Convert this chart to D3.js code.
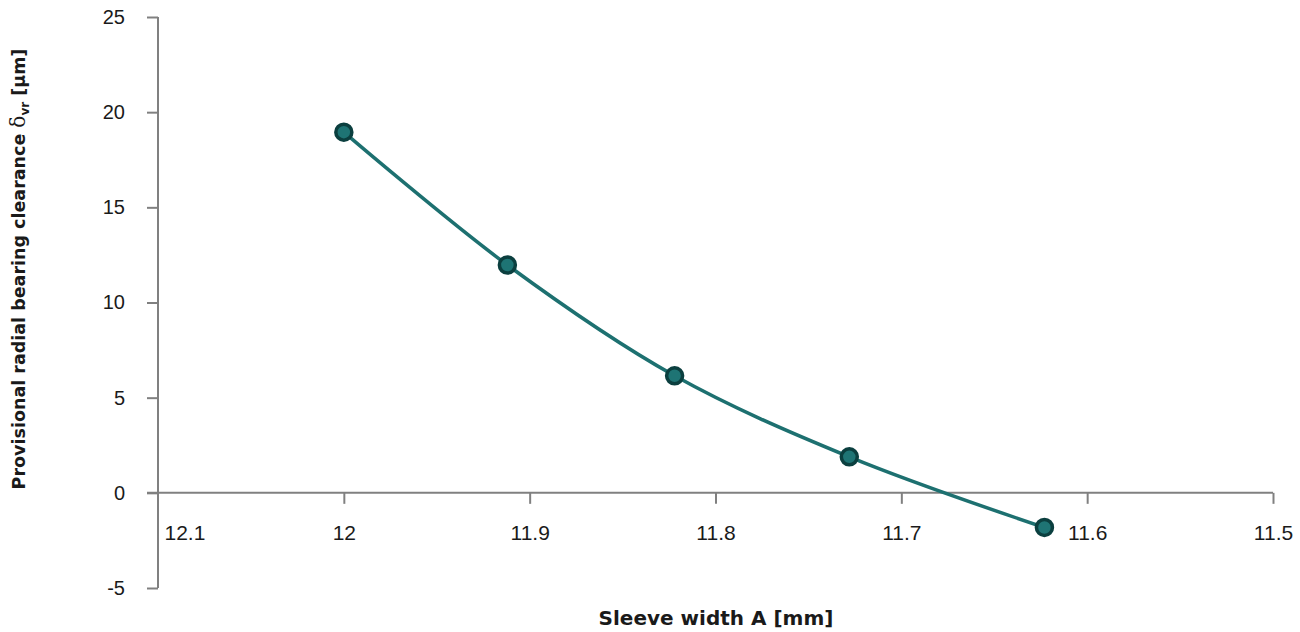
<!DOCTYPE html>
<html>
<head>
<meta charset="utf-8">
<script src="https://cdn.jsdelivr.net/npm/d3@7"></script>
<style>
    body { margin: 0; background: #fff; }
    svg { display: block; font-family: Lato, "Open Sans", sans-serif; }
    .axis path, .axis line { stroke: #808080; stroke-width: 2; }
    .axis text { fill: #1a1a1a; }
    .title { font-family: "DejaVu Sans", sans-serif; font-weight: 700; fill: #1a1a1a; }
</style>
</head>
<body>
<div id="view"></div>
<script>
// sleeve width A [mm] vs provisional radial bearing clearance [um]
var widths = [12.0, 11.912, 11.822, 11.728, 11.623];
var clearance = [18.95, 11.97, 6.15, 1.89, -1.82];
var xTicks = [12.1, 12, 11.9, 11.8, 11.7, 11.6, 11.5];
var yTicks = [-5, 0, 5, 10, 15, 20, 25];

var view = {
    width: 1300,
    height: 632,
    left: 158,
    right: 1273,
    top: 17,
    bottom: 588,
};

var svg = d3.select("#view").append("svg")
    .attr("width", view.width)
    .attr("height", view.height)
;

var x = d3.scaleLinear().domain([12.1, 11.5]).range([view.left, view.right]);
var y = d3.scaleLinear().domain([-5, 25]).range([view.bottom, view.top]);

// y axis, outer ticks to the left
var yAxis = svg.append("g")
    .attr("class", "axis")
    .attr("transform", `translate(${view.left}, 0)`)
    .call(d3.axisLeft(y).tickValues(yTicks).tickFormat(d => String(d)).tickSize(11).tickSizeOuter(0).tickPadding(22))
;
yAxis.select(".domain").attr("d", `M0,${view.top}V${view.bottom}`);
yAxis.selectAll(".tick text").style("font-size", "20px");

// x axis sits on y = 0 and pokes out left past the y axis
var xAxis = svg.append("g")
    .attr("class", "axis")
    .attr("transform", `translate(0, ${y(0)})`)
    .call(d3.axisBottom(x).tickValues(xTicks).tickFormat(d => String(d)).tickSize(11).tickSizeOuter(0).tickPadding(21))
;
xAxis.select(".domain").attr("d", `M${view.left - 11},0H${view.right}`);
xAxis.selectAll(".tick").filter(d => d === 12.1).select("text")
    .attr("text-anchor", "start").attr("x", 6);
xAxis.selectAll(".tick").filter(d => d === 12.1).select("line").remove();
xAxis.selectAll(".tick text").style("font-size", "21px");

var points = widths.map((w, i) => ({x: w, y: clearance[i]}));

var line = d3.line()
    .x(d => x(d.x))
    .y(d => y(d.y))
    .curve(d3.curveCatmullRom.alpha(0.5))
;

svg.append("path")
    .datum(points)
    .attr("fill", "none")
    .attr("stroke", "#1d7070")
    .attr("stroke-width", 3.5)
    .attr("d", line)
;

svg.selectAll("circle.point").data(points).enter()
    .append("circle")
    .attr("class", "point")
    .attr("r", 8)
    .attr("cx", d => x(d.x))
    .attr("cy", d => y(d.y))
    .attr("fill", "#1e7474")
    .attr("stroke", "#0b3f3f")
    .attr("stroke-width", 3.5)
;

// titles
svg.append("text")
    .attr("class", "title")
    .attr("x", 716)
    .attr("y", 625)
    .attr("text-anchor", "middle")
    .style("font-size", "20px")
    .text("Sleeve width A [mm]")
;

var yTitle = svg.append("text")
    .attr("class", "title")
    .attr("transform", "translate(25, 269) rotate(-90)")
    .attr("text-anchor", "middle")
    .style("font-size", "17.5px")
;
yTitle.append("tspan").text("Provisional radial bearing clearance ");
yTitle.append("tspan")
    .attr("font-family", "'DejaVu Serif', serif")
    .attr("font-weight", 400)
    .attr("font-size", 20)
    .text("δ");
yTitle.append("tspan").attr("font-size", 12).attr("dy", 4).text("vr");
yTitle.append("tspan").attr("dy", -4).text(" [µm]");
</script>
</body>
</html>
